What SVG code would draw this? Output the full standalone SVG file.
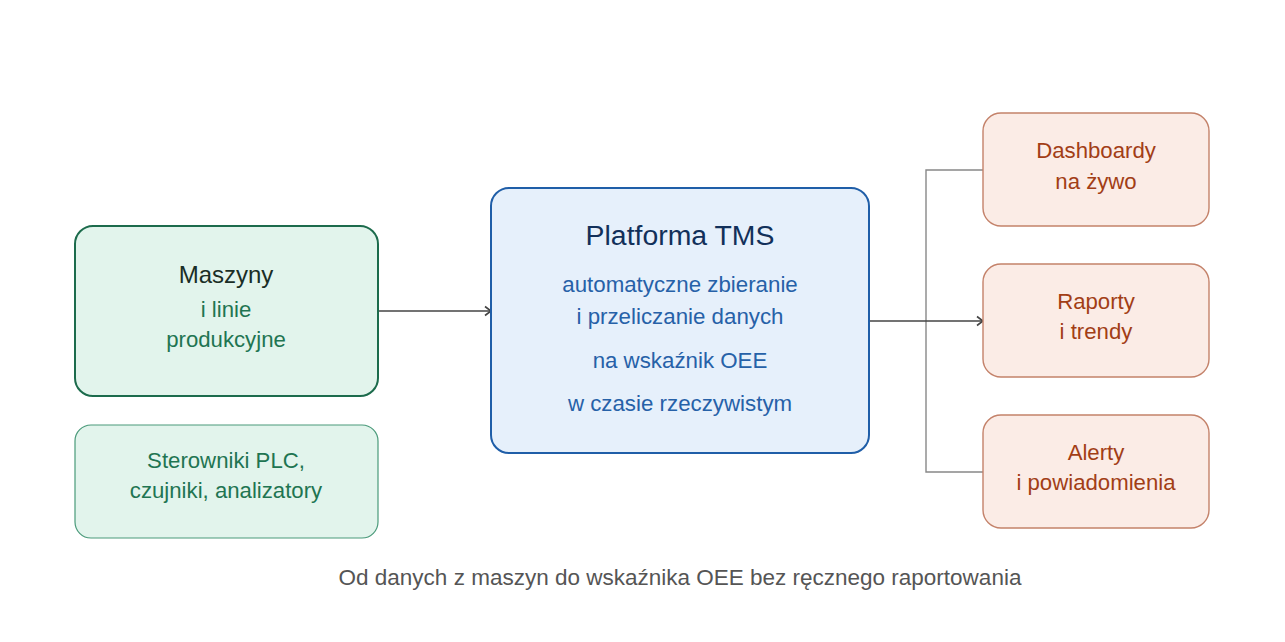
<svg xmlns="http://www.w3.org/2000/svg" width="1285" height="642" viewBox="0 0 1285 642">
<defs>
<marker id="arr" markerWidth="12" markerHeight="12" refX="10" refY="6" orient="auto" markerUnits="userSpaceOnUse">
<path d="M4,1.5 L10,6 L4,10.5" fill="none" stroke="#444" stroke-width="1.6"/>
</marker>
</defs>
<style>
text{font-family:"Liberation Sans",Arial,sans-serif;text-anchor:middle}
.src{fill:#e2f4ec;stroke:#1c6b4c;stroke-width:2}
.src2{fill:#e2f4ec;stroke:#4a9a7a;stroke-width:1.2}
.tms{fill:#e6f0fb;stroke:#1f5ea8;stroke-width:2}
.out{fill:#fbece6;stroke:#c4826a;stroke-width:1.4}
.gt{fill:#1a2e26;font-size:24px}
.gs{fill:#1f7552;font-size:22.2px}
.bt{fill:#12305a;font-size:28.4px}
.bs{fill:#2661a8;font-size:22.3px}
.ot{fill:#a23e16;font-size:22.2px}
.cap{fill:#555;font-size:22.5px}
</style>
<rect width="1285" height="642" fill="#fff"/>
<g id="connectors">
<line x1="378" y1="311" x2="491" y2="311" stroke="#444" stroke-width="1.6" marker-end="url(#arr)"/>
<polyline points="983,170 926,170 926,472 983,472" fill="none" stroke="#888" stroke-width="1.4"/>
<line x1="869" y1="321" x2="983" y2="321" stroke="#444" stroke-width="1.6" marker-end="url(#arr)"/>
</g>
<g id="maszyny">
<rect class="src" x="75" y="226" width="303" height="170" rx="18"/>
<text class="gt" x="226" y="283">Maszyny</text>
<text class="gs" x="226" y="317">i linie</text>
<text class="gs" x="226" y="347">produkcyjne</text>
</g>
<g id="sterowniki">
<rect class="src2" x="75" y="425" width="303" height="113" rx="16"/>
<text class="gs" x="226" y="468">Sterowniki PLC,</text>
<text class="gs" x="226" y="498">czujniki, analizatory</text>
</g>
<g id="tms">
<rect class="tms" x="491" y="188" width="378" height="265" rx="18"/>
<text class="bt" x="680" y="245">Platforma TMS</text>
<text class="bs" x="680" y="292">automatyczne zbieranie</text>
<text class="bs" x="680" y="324">i przeliczanie danych</text>
<text class="bs" x="680" y="368">na wskaźnik OEE</text>
<text class="bs" x="680" y="411">w czasie rzeczywistym</text>
</g>
<g id="dashboardy">
<rect class="out" x="983" y="113" width="226" height="113" rx="18"/>
<text class="ot" x="1096" y="158">Dashboardy</text>
<text class="ot" x="1096" y="189">na żywo</text>
</g>
<g id="raporty">
<rect class="out" x="983" y="264" width="226" height="113" rx="18"/>
<text class="ot" x="1096" y="309">Raporty</text>
<text class="ot" x="1096" y="339">i trendy</text>
</g>
<g id="alerty">
<rect class="out" x="983" y="415" width="226" height="113" rx="18"/>
<text class="ot" x="1096" y="460">Alerty</text>
<text class="ot" x="1096" y="490">i powiadomienia</text>
</g>
<text class="cap" x="680" y="585">Od danych z maszyn do wskaźnika OEE bez ręcznego raportowania</text>
</svg>
